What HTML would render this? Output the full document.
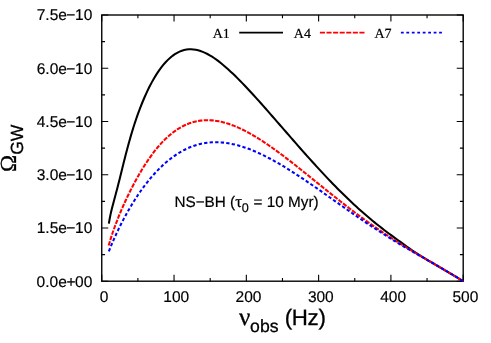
<!DOCTYPE html>
<html><head><meta charset="utf-8"><style>
html,body{margin:0;padding:0;background:#fff;}
svg{display:block;will-change:transform;} text{text-rendering:geometricPrecision;stroke:#000;}
</style></head><body>
<svg width="491" height="343" viewBox="0 0 491 343">
<rect width="491" height="343" fill="#fff"/>
<rect x="101.75" y="15.0" width="361.45" height="266.2" fill="none" stroke="#000" stroke-width="1.38"/>
<path d="M101.75,281.2 v-6.5 M101.75,15.0 v6.5 M137.89,281.2 v-3.3 M137.89,15.0 v3.3 M174.04,281.2 v-6.5 M174.04,15.0 v6.5 M210.19,281.2 v-3.3 M210.19,15.0 v3.3 M246.33,281.2 v-6.5 M246.33,15.0 v6.5 M282.48,281.2 v-3.3 M282.48,15.0 v3.3 M318.62,281.2 v-6.5 M318.62,15.0 v6.5 M354.76,281.2 v-3.3 M354.76,15.0 v3.3 M390.91,281.2 v-6.5 M390.91,15.0 v6.5 M427.05,281.2 v-3.3 M427.05,15.0 v3.3 M463.20,281.2 v-6.5 M463.20,15.0 v6.5 M101.75,281.20 h6.5 M463.2,281.20 h-6.5 M101.75,254.58 h3.3 M463.2,254.58 h-3.3 M101.75,227.96 h6.5 M463.2,227.96 h-6.5 M101.75,201.34 h3.3 M463.2,201.34 h-3.3 M101.75,174.72 h6.5 M463.2,174.72 h-6.5 M101.75,148.10 h3.3 M463.2,148.10 h-3.3 M101.75,121.48 h6.5 M463.2,121.48 h-6.5 M101.75,94.86 h3.3 M463.2,94.86 h-3.3 M101.75,68.24 h6.5 M463.2,68.24 h-6.5 M101.75,41.62 h3.3 M463.2,41.62 h-3.3 M101.75,15.00 h6.5 M463.2,15.00 h-6.5" fill="none" stroke="#000" stroke-width="1.1"/>
<path d="M108.85,223.70 L109.65,218.93 L110.45,214.90 L111.25,211.34 L112.04,208.08 L112.84,205.00 L113.64,202.01 L114.44,199.06 L115.24,196.10 L116.04,193.10 L116.84,190.06 L117.64,186.97 L118.43,183.83 L119.23,180.64 L120.03,177.43 L120.83,174.20 L121.63,170.95 L122.43,167.71 L123.23,164.49 L124.03,161.29 L124.82,158.13 L125.62,155.01 L126.42,151.93 L127.22,148.91 L128.02,145.94 L128.82,143.03 L129.62,140.17 L130.42,137.38 L131.21,134.65 L132.01,131.97 L132.81,129.36 L133.61,126.81 L134.41,124.31 L135.21,121.88 L136.01,119.50 L136.81,117.17 L137.60,114.90 L138.40,112.68 L139.20,110.52 L140.00,108.40 L142.33,102.50 L144.65,97.00 L146.98,91.86 L149.30,87.07 L151.63,82.62 L153.95,78.48 L156.28,74.66 L158.60,71.13 L160.93,67.90 L163.25,64.95 L165.58,62.27 L167.90,59.86 L170.23,57.71 L172.55,55.82 L174.88,54.18 L177.20,52.78 L179.53,51.63 L181.85,50.71 L184.18,50.03 L186.50,49.56 L188.83,49.31 L191.15,49.27 L193.48,49.42 L195.80,49.76 L198.13,50.28 L200.45,50.98 L202.78,51.84 L205.11,52.85 L207.43,54.01 L209.76,55.30 L212.08,56.72 L214.41,58.26 L216.73,59.91 L219.06,61.65 L221.38,63.49 L223.71,65.42 L226.03,67.42 L228.36,69.49 L230.68,71.63 L233.01,73.82 L235.33,76.07 L237.66,78.37 L239.98,80.72 L242.31,83.10 L244.63,85.53 L246.96,87.98 L249.28,90.47 L251.61,92.99 L253.93,95.53 L256.26,98.09 L258.58,100.68 L260.91,103.28 L263.23,105.90 L265.56,108.53 L267.88,111.17 L270.21,113.83 L272.54,116.49 L274.86,119.15 L277.19,121.83 L279.51,124.50 L281.84,127.18 L284.16,129.85 L286.49,132.52 L288.81,135.20 L291.14,137.86 L293.46,140.52 L295.79,143.18 L298.11,145.83 L300.44,148.47 L302.76,151.10 L305.09,153.71 L307.41,156.32 L309.74,158.92 L312.06,161.50 L314.39,164.06 L316.71,166.61 L319.04,169.15 L321.36,171.66 L323.69,174.16 L326.01,176.63 L328.34,179.09 L330.66,181.52 L332.99,183.93 L335.32,186.31 L337.64,188.67 L339.97,191.00 L342.29,193.31 L344.62,195.59 L346.94,197.84 L349.27,200.06 L351.59,202.25 L353.92,204.42 L356.24,206.55 L358.57,208.66 L360.89,210.73 L363.22,212.78 L365.54,214.80 L367.87,216.79 L370.19,218.75 L372.52,220.69 L374.84,222.59 L377.17,224.47 L379.49,226.32 L381.82,228.14 L384.14,229.94 L386.47,231.71 L388.79,233.46 L391.12,235.18 L393.44,236.88 L395.77,238.56 L398.09,240.25 L400.42,241.95 L402.75,243.65 L405.07,245.34 L407.40,247.00 L409.72,248.63 L412.05,250.23 L414.37,251.79 L416.70,253.32 L419.02,254.82 L421.35,256.28 L423.67,257.72 L426.00,259.12 L428.32,260.51 L430.65,261.88 L432.97,263.24 L435.30,264.60 L437.62,265.96 L439.95,267.31 L442.27,268.67 L444.60,270.04 L446.92,271.41 L449.25,272.78 L451.57,274.16 L453.90,275.55 L456.22,276.94 L458.55,278.35 L460.87,279.77 L463.20,281.20" fill="none" stroke="#000" stroke-width="2.05"/>
<path d="M108.70,245.49 L109.50,242.68 L110.31,240.00 L111.11,237.42 L111.91,234.95 L112.71,232.55 L113.52,230.23 L114.32,227.97 L115.12,225.77 L115.92,223.62 L116.73,221.51 L117.53,219.46 L118.33,217.44 L119.13,215.46 L119.94,213.51 L120.74,211.59 L121.54,209.71 L122.34,207.86 L123.15,206.03 L123.95,204.23 L124.75,202.46 L125.55,200.71 L126.36,198.99 L127.16,197.29 L127.96,195.61 L128.76,193.96 L129.57,192.32 L130.37,190.71 L131.17,189.12 L131.97,187.55 L132.78,185.99 L133.58,184.46 L134.38,182.95 L135.18,181.46 L135.99,179.99 L136.79,178.54 L137.59,177.10 L138.39,175.69 L139.20,174.29 L140.00,172.91 L142.33,169.03 L144.65,165.30 L146.98,161.73 L149.30,158.32 L151.63,155.06 L153.95,151.97 L156.28,149.03 L158.60,146.25 L160.93,143.63 L163.25,141.16 L165.58,138.85 L167.90,136.68 L170.23,134.67 L172.55,132.80 L174.88,131.07 L177.20,129.48 L179.53,128.03 L181.85,126.72 L184.18,125.53 L186.50,124.47 L188.83,123.54 L191.15,122.73 L193.48,122.04 L195.80,121.46 L198.13,121.00 L200.45,120.64 L202.78,120.39 L205.11,120.25 L207.43,120.20 L209.76,120.25 L212.08,120.39 L214.41,120.63 L216.73,120.95 L219.06,121.36 L221.38,121.85 L223.71,122.41 L226.03,123.06 L228.36,123.78 L230.68,124.56 L233.01,125.42 L235.33,126.34 L237.66,127.33 L239.98,128.37 L242.31,129.48 L244.63,130.64 L246.96,131.85 L249.28,133.11 L251.61,134.42 L253.93,135.77 L256.26,137.17 L258.58,138.61 L260.91,140.09 L263.23,141.60 L265.56,143.15 L267.88,144.73 L270.21,146.34 L272.54,147.98 L274.86,149.65 L277.19,151.34 L279.51,153.05 L281.84,154.79 L284.16,156.54 L286.49,158.31 L288.81,160.10 L291.14,161.91 L293.46,163.73 L295.79,165.56 L298.11,167.40 L300.44,169.25 L302.76,171.11 L305.09,172.97 L307.41,174.84 L309.74,176.72 L312.06,178.60 L314.39,180.48 L316.71,182.36 L319.04,184.24 L321.36,186.12 L323.69,188.00 L326.01,189.87 L328.34,191.74 L330.66,193.61 L332.99,195.47 L335.32,197.32 L337.64,199.16 L339.97,200.99 L342.29,202.82 L344.62,204.63 L346.94,206.43 L349.27,208.22 L351.59,210.00 L353.92,211.76 L356.24,213.51 L358.57,215.24 L360.89,216.96 L363.22,218.66 L365.54,220.35 L367.87,222.02 L370.19,223.67 L372.52,225.31 L374.84,226.93 L377.17,228.54 L379.49,230.13 L381.82,231.70 L384.14,233.26 L386.47,234.80 L388.79,236.33 L391.12,237.84 L393.44,239.34 L395.77,240.83 L398.09,242.30 L400.42,243.76 L402.75,245.21 L405.07,246.64 L407.40,248.07 L409.72,249.48 L412.05,250.89 L414.37,252.28 L416.70,253.67 L419.02,255.05 L421.35,256.43 L423.67,257.80 L426.00,259.16 L428.32,260.53 L430.65,261.88 L432.97,263.24 L435.30,264.60 L437.62,265.96 L439.95,267.31 L442.27,268.67 L444.60,270.04 L446.92,271.41 L449.25,272.78 L451.57,274.16 L453.90,275.55 L456.22,276.94 L458.55,278.35 L460.87,279.77 L463.20,281.20" fill="none" stroke="#ff0000" stroke-width="2.05" stroke-dasharray="4.35 1.35"/>
<path d="M108.85,251.30 L109.65,249.30 L110.45,247.34 L111.25,245.41 L112.04,243.52 L112.84,241.66 L113.64,239.83 L114.44,238.03 L115.24,236.26 L116.04,234.51 L116.84,232.79 L117.64,231.10 L118.43,229.43 L119.23,227.79 L120.03,226.17 L120.83,224.57 L121.63,222.99 L122.43,221.44 L123.23,219.90 L124.03,218.39 L124.82,216.90 L125.62,215.42 L126.42,213.97 L127.22,212.54 L128.02,211.12 L128.82,209.73 L129.62,208.35 L130.42,206.99 L131.21,205.65 L132.01,204.33 L132.81,203.03 L133.61,201.74 L134.41,200.47 L135.21,199.21 L136.01,197.98 L136.81,196.76 L137.60,195.55 L138.40,194.37 L139.20,193.20 L140.00,192.04 L142.33,188.77 L144.65,185.63 L146.98,182.61 L149.30,179.72 L151.63,176.95 L153.95,174.30 L156.28,171.77 L158.60,169.36 L160.93,167.06 L163.25,164.87 L165.58,162.79 L167.90,160.82 L170.23,158.96 L172.55,157.20 L174.88,155.55 L177.20,154.00 L179.53,152.55 L181.85,151.20 L184.18,149.96 L186.50,148.81 L188.83,147.76 L191.15,146.81 L193.48,145.95 L195.80,145.18 L198.13,144.51 L200.45,143.92 L202.78,143.43 L205.11,143.02 L207.43,142.70 L209.76,142.45 L212.08,142.29 L214.41,142.21 L216.73,142.20 L219.06,142.27 L221.38,142.42 L223.71,142.63 L226.03,142.91 L228.36,143.26 L230.68,143.67 L233.01,144.15 L235.33,144.69 L237.66,145.28 L239.98,145.94 L242.31,146.65 L244.63,147.41 L246.96,148.22 L249.28,149.08 L251.61,149.99 L253.93,150.95 L256.26,151.95 L258.58,152.99 L260.91,154.07 L263.23,155.19 L265.56,156.35 L267.88,157.54 L270.21,158.76 L272.54,160.02 L274.86,161.31 L277.19,162.63 L279.51,163.97 L281.84,165.34 L284.16,166.74 L286.49,168.16 L288.81,169.60 L291.14,171.07 L293.46,172.55 L295.79,174.05 L298.11,175.57 L300.44,177.11 L302.76,178.66 L305.09,180.22 L307.41,181.80 L309.74,183.38 L312.06,184.98 L314.39,186.59 L316.71,188.20 L319.04,189.83 L321.36,191.45 L323.69,193.09 L326.01,194.73 L328.34,196.37 L330.66,198.01 L332.99,199.65 L335.32,201.30 L337.64,202.94 L339.97,204.59 L342.29,206.23 L344.62,207.86 L346.94,209.50 L349.27,211.13 L351.59,212.75 L353.92,214.36 L356.24,215.97 L358.57,217.57 L360.89,219.16 L363.22,220.75 L365.54,222.32 L367.87,223.88 L370.19,225.43 L372.52,226.97 L374.84,228.50 L377.17,230.01 L379.49,231.51 L381.82,233.01 L384.14,234.49 L386.47,235.95 L388.79,237.41 L391.12,238.86 L393.44,240.29 L395.77,241.71 L398.09,243.13 L400.42,244.53 L402.75,245.91 L405.07,247.27 L407.40,248.61 L409.72,249.95 L412.05,251.27 L414.37,252.59 L416.70,253.92 L419.02,255.24 L421.35,256.56 L423.67,257.89 L426.00,259.22 L428.32,260.56 L430.65,261.90 L432.97,263.25 L435.30,264.60 L437.62,265.96 L439.95,267.31 L442.27,268.67 L444.60,270.04 L446.92,271.41 L449.25,272.78 L451.57,274.16 L453.90,275.55 L456.22,276.94 L458.55,278.35 L460.87,279.77 L463.20,281.20" fill="none" stroke="#0000ff" stroke-width="2.05" stroke-dasharray="3.3 2.25"/>
<path d="M239.2,32.65 H283.0" stroke="#000" stroke-width="1.9"/>
<path d="M319.9,32.65 H364.5" stroke="#ff0000" stroke-width="1.9" stroke-dasharray="5.1 1.48"/>
<path d="M400.9,32.65 H441.9" stroke="#0000ff" stroke-width="1.9" stroke-dasharray="2.8 2.66"/>
<text x="92.3" y="286.55" text-anchor="end" font-family="Liberation Sans, sans-serif" stroke-width="0.18" font-size="15.5">0.0e<tspan dx="-0.4">+</tspan><tspan dx="-0.4">00</tspan></text>
<text x="92.3" y="233.31" text-anchor="end" font-family="Liberation Sans, sans-serif" stroke-width="0.18" font-size="15.5">1.5e<tspan dx="-0.55">−</tspan><tspan dx="-0.35">10</tspan></text>
<text x="92.3" y="180.07" text-anchor="end" font-family="Liberation Sans, sans-serif" stroke-width="0.18" font-size="15.5">3.0e<tspan dx="-0.55">−</tspan><tspan dx="-0.35">10</tspan></text>
<text x="92.3" y="126.83" text-anchor="end" font-family="Liberation Sans, sans-serif" stroke-width="0.18" font-size="15.5">4.5e<tspan dx="-0.55">−</tspan><tspan dx="-0.35">10</tspan></text>
<text x="92.3" y="73.59" text-anchor="end" font-family="Liberation Sans, sans-serif" stroke-width="0.18" font-size="15.5">6.0e<tspan dx="-0.55">−</tspan><tspan dx="-0.35">10</tspan></text>
<text x="92.3" y="20.35" text-anchor="end" font-family="Liberation Sans, sans-serif" stroke-width="0.18" font-size="15.5">7.5e<tspan dx="-0.55">−</tspan><tspan dx="-0.35">10</tspan></text>
<text x="103.95" y="302.1" text-anchor="middle" font-family="Liberation Sans, sans-serif" stroke-width="0.18" font-size="15.5">0</text>
<text x="176.24" y="302.1" text-anchor="middle" font-family="Liberation Sans, sans-serif" stroke-width="0.18" font-size="15.5">100</text>
<text x="248.53" y="302.1" text-anchor="middle" font-family="Liberation Sans, sans-serif" stroke-width="0.18" font-size="15.5">200</text>
<text x="320.82" y="302.1" text-anchor="middle" font-family="Liberation Sans, sans-serif" stroke-width="0.18" font-size="15.5">300</text>
<text x="393.11" y="302.1" text-anchor="middle" font-family="Liberation Sans, sans-serif" stroke-width="0.18" font-size="15.5">400</text>
<text x="465.40" y="302.1" text-anchor="middle" font-family="Liberation Sans, sans-serif" stroke-width="0.18" font-size="15.5">500</text>
<text x="229.79999999999998" y="37.9" text-anchor="end" font-family="Liberation Serif, serif" font-size="14" stroke-width="0.2">A1</text>
<text x="310.90000000000003" y="37.9" text-anchor="end" font-family="Liberation Serif, serif" font-size="14" stroke-width="0.2">A4</text>
<text x="391.5" y="37.9" text-anchor="end" font-family="Liberation Serif, serif" font-size="14" stroke-width="0.2">A7</text>
<text x="174.4" y="206.7" font-family="Liberation Sans, sans-serif" stroke-width="0.18" font-size="15.3">NS−BH (<tspan font-family="Liberation Serif, serif" font-size="17">τ</tspan><tspan dy="4.9" dx="-0.4" font-size="12.6">0</tspan><tspan dy="-4.9" dx="0.7"> = 10 Myr)</tspan></text>
<text x="239.1" y="325.4" font-family="Liberation Sans, sans-serif" stroke-width="0.3" font-size="22"><tspan font-family="Liberation Serif, serif" font-size="25">ν</tspan><tspan dx="-0.3" dy="6.7" font-size="17.6">obs</tspan><tspan dy="-6.7" dx="0.3" font-size="22.3" letter-spacing="-0.3"> (Hz)</tspan></text>
<text transform="translate(16.4,172.1) rotate(-90)" font-family="Liberation Sans, sans-serif" stroke-width="0.3" font-size="22"><tspan font-family="Liberation Serif, serif" font-size="23">Ω</tspan><tspan dy="6.1" dx="0.2" font-size="17.6">GW</tspan></text>
</svg>
</body></html>
